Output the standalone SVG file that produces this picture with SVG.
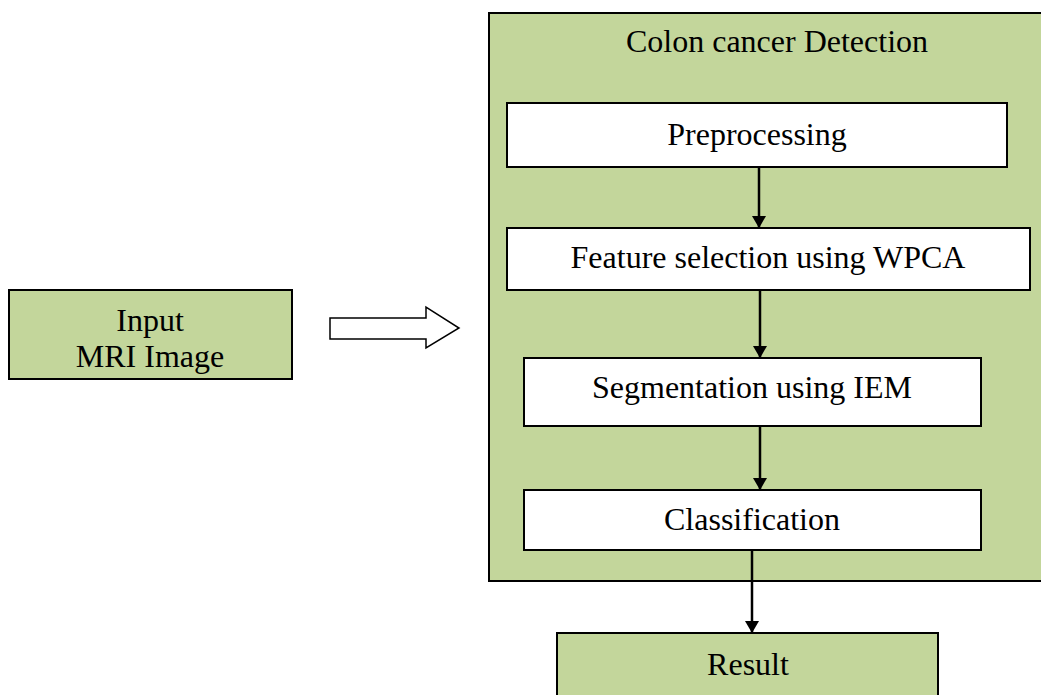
<svg xmlns="http://www.w3.org/2000/svg" width="1041" height="695" viewBox="0 0 1041 695">
<defs>
<style>
.g{fill:#c3d69b;stroke:#000;stroke-width:2}
.w{fill:#fff;stroke:#000;stroke-width:2}
.t{font-family:"Liberation Serif","Times New Roman",serif;font-size:32px;fill:#000;text-anchor:middle}
.c{stroke:#000;stroke-width:2.5;fill:none;marker-end:url(#ah)}
</style>
<marker id="ah" viewBox="0 0 12 14" refX="12" refY="7" markerWidth="12" markerHeight="14" markerUnits="userSpaceOnUse" orient="auto">
<path d="M0,0 L12,7 L0,14 Z" fill="#000"/>
</marker>
</defs>
<rect width="1041" height="695" fill="#fff"/>
<g id="input">
<rect class="g" x="9" y="290" width="283" height="89"/>
<text class="t" x="150" y="331">Input</text>
<text class="t" x="150" y="367">MRI Image</text>
</g>
<g id="container">
<rect class="g" x="489" y="13" width="560" height="568"/>
<text class="t" x="777" y="52">Colon cancer Detection</text>
</g>
<g id="preprocessing">
<rect class="w" x="507" y="103" width="500" height="64"/>
<text class="t" x="757" y="145">Preprocessing</text>
</g>
<g id="feature">
<rect class="w" x="507" y="228" width="523" height="62"/>
<text class="t" x="768" y="268">Feature selection using WPCA</text>
</g>
<g id="segmentation">
<rect class="w" x="524" y="358" width="457" height="68"/>
<text class="t" x="752" y="398">Segmentation using IEM</text>
</g>
<g id="classification">
<rect class="w" x="524" y="490" width="457" height="60"/>
<text class="t" x="752" y="530">Classification</text>
</g>
<g id="result">
<rect class="g" x="557" y="633" width="381" height="70"/>
<text class="t" x="748" y="675">Result</text>
</g>
<g id="connectors">
<path d="M330,318 H426 V307 L459,328 L426,348 V339 H330 Z" fill="#fff" stroke="#000" stroke-width="1.5"/>
<line class="c" x1="759" y1="167" x2="759" y2="228"/>
<line class="c" x1="760" y1="290" x2="760" y2="358"/>
<line class="c" x1="760" y1="426" x2="760" y2="490"/>
<line class="c" x1="752" y1="550" x2="752" y2="633"/>
</g>
</svg>
